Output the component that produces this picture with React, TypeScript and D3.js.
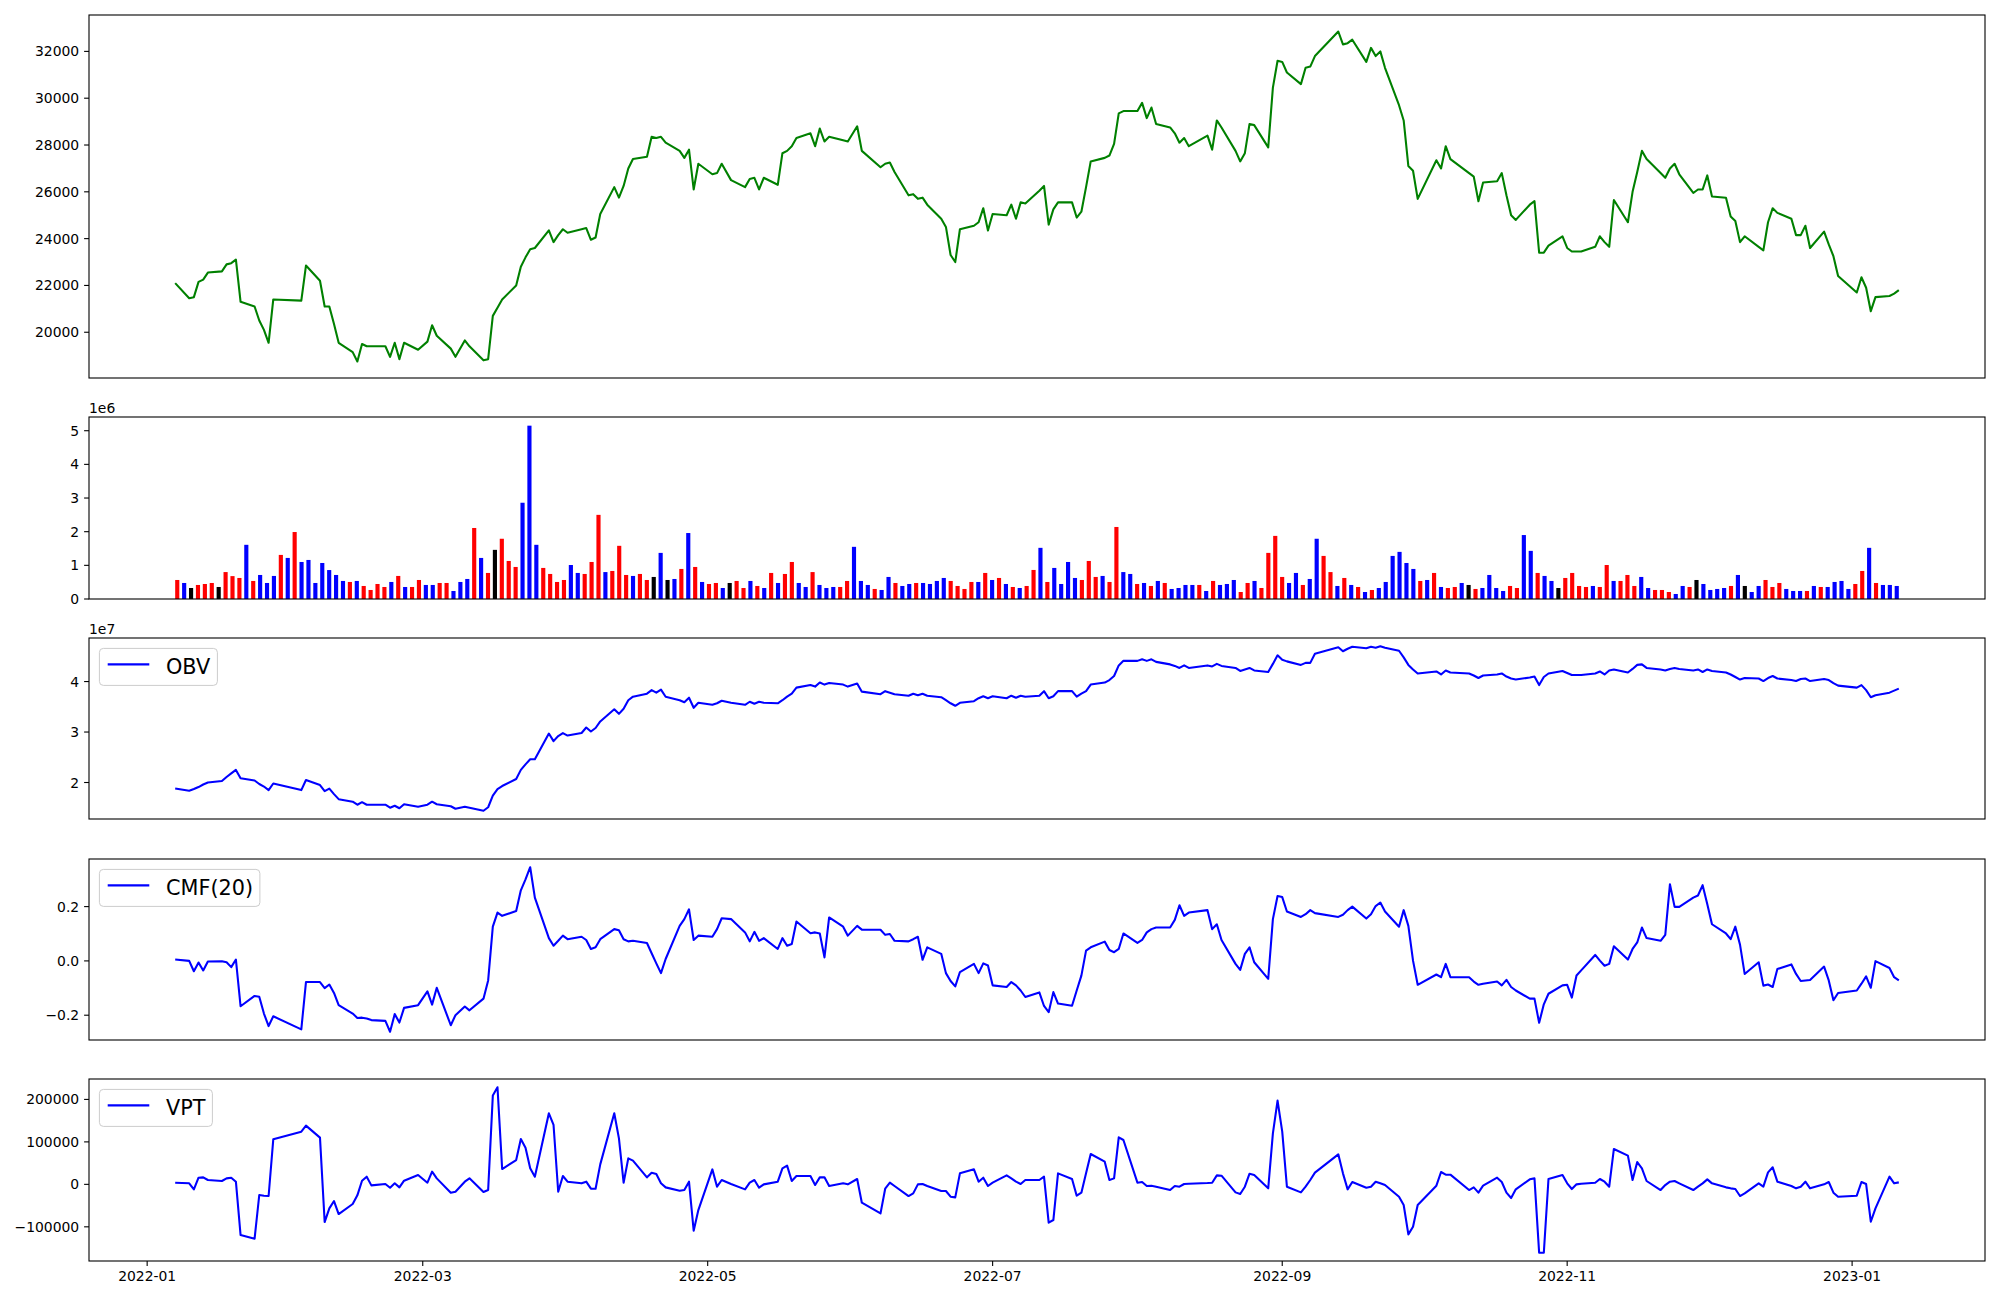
import React from "react";
import * as d3 from "d3";

// trading calendar (KRX), Jan 7 2022 .. Jan 11 2023
const startDate = "2022-01-07";
const endDate = "2023-01-11";
const holidays = [
  "2022-01-31", "2022-02-01", "2022-02-02", "2022-03-01", "2022-03-09",
  "2022-05-05", "2022-06-01", "2022-06-06", "2022-08-15", "2022-09-09",
  "2022-09-12", "2022-10-03", "2022-10-10", "2022-12-30",
];

// close price, one line per month
const close = [
  22100, 21450, 21500, 22150, 22250, 22550, 22600, 22900, 22950, 23100, 21300, 21100, 20500, 20100, 19550, 21400,
  21350, 22850, 22200, 21100, 21100, 20350, 19550, 19150, 18750, 19500, 19400, 19400, 19400, 18950, 19550, 18850, 19550, 19250,
  19600, 20300, 19850, 19300, 18950, 19650, 19400, 18800, 18850, 20700, 21050, 21400, 22000, 22800, 23200, 23550, 23600, 24350, 23850, 24150, 24400,
  24250, 24400, 24450, 23950, 24050, 25050, 26200, 25750, 26250, 27000, 27400, 27500, 28350, 28300, 28350, 28100, 27750, 27450, 27800, 26100, 27200,
  26750, 26800, 27200, 26500, 26200, 26550, 26600, 26100, 26600, 26300, 27650, 27750, 27950, 28300, 28500, 27950, 28700, 28150, 28350, 28200, 28150,
  28800, 27750, 27050, 27200, 27250, 26850, 25850, 25900, 25700, 25750, 25450, 24850, 24500, 23300, 23000, 24400, 24550, 24700, 25300, 24350,
  25050, 25000, 25450, 24850, 25550, 25500, 26050, 26250, 24600, 25250, 25550, 25550, 24900, 25150, 26200, 27300, 27450, 27550, 28050, 29350, 29450,
  29450, 29800, 29150, 29600, 28900, 28750, 28500, 28100, 28300, 27950, 28400, 27800, 29050, 28750, 27750, 27300, 27650, 28900, 28850, 27900, 30450, 31600,
  31550, 31100, 30600, 31300, 31350, 31800, 32850, 32300, 32350, 32500, 31550, 32150, 31800, 32000, 31300, 29700, 29050, 27100, 26900, 25700,
  27350, 27000, 27950, 27400, 26800, 26650, 25600, 26400, 26450, 26800, 25850, 25000, 24800, 25450, 25600, 23400, 23400, 23700, 24100,
  23600, 23450, 23450, 23450, 23650, 24100, 23850, 23650, 25650, 24700, 26000, 26850, 27750, 27400, 26800, 26600, 27000, 27200, 26750, 25950, 26100, 26100,
  26700, 25800, 25750, 24950, 24750, 23850, 24100, 23650, 23500, 24700, 25300, 25100, 24850, 24150, 24150, 24550, 23600, 24300, 23750, 23250, 22400,
  21700, 22350, 21900, 20900, 21500, 21550, 21650, 21800,
];

// volume in millions of shares
const volume = [
  0.565, 0.476, 0.327, 0.417, 0.446, 0.476, 0.357, 0.8, 0.68, 0.625,
  1.61, 0.536, 0.714, 0.476, 0.685, 1.31, 1.22, 1.99, 1.1, 1.16,
  0.476, 1.07, 0.86, 0.714, 0.536, 0.506, 0.536, 0.387, 0.268, 0.446,
  0.357, 0.506, 0.685, 0.357, 0.357, 0.565, 0.417, 0.417, 0.476, 0.476,
  0.238, 0.506, 0.595, 2.11, 1.22, 0.774, 1.46, 1.79, 1.13, 0.952,
  2.86, 5.15, 1.61, 0.923, 0.744, 0.506, 0.565, 1.01, 0.774, 0.744,
  1.1, 2.5, 0.8, 0.833, 1.58, 0.714, 0.685, 0.744, 0.565, 0.655,
  1.37, 0.565, 0.595, 0.893, 1.96, 0.952, 0.506, 0.446, 0.476, 0.327,
  0.476, 0.536, 0.327, 0.536, 0.387, 0.327, 0.774, 0.476, 0.744, 1.1,
  0.476, 0.357, 0.8, 0.417, 0.327, 0.357, 0.357, 0.536, 1.55, 0.536,
  0.417, 0.298, 0.268, 0.655, 0.476, 0.387, 0.446, 0.476, 0.476, 0.446,
  0.536, 0.625, 0.536, 0.387, 0.298, 0.506, 0.506, 0.774, 0.565, 0.625,
  0.446, 0.357, 0.327, 0.387, 0.863, 1.52, 0.506, 0.923, 0.446, 1.1,
  0.625, 0.565, 1.13, 0.655, 0.685, 0.506, 2.14, 0.8, 0.744, 0.446,
  0.476, 0.387, 0.536, 0.476, 0.298, 0.327, 0.417, 0.417, 0.417, 0.238,
  0.536, 0.417, 0.446, 0.565, 0.208, 0.476, 0.536, 0.327, 1.37, 1.875,
  0.655, 0.476, 0.774, 0.417, 0.595, 1.79, 1.28, 0.8, 0.387, 0.625,
  0.417, 0.357, 0.208, 0.268, 0.327, 0.506, 1.28, 1.4, 1.07, 0.893,
  0.536, 0.565, 0.774, 0.357, 0.327, 0.357, 0.476, 0.417, 0.298, 0.327,
  0.714, 0.327, 0.238, 0.387, 0.327, 1.9, 1.43, 0.774, 0.685, 0.536,
  0.327, 0.625, 0.774, 0.387, 0.357, 0.387, 0.357, 1.01, 0.536, 0.536,
  0.714, 0.387, 0.655, 0.327, 0.268, 0.268, 0.208, 0.149, 0.387, 0.357,
  0.565, 0.446, 0.268, 0.298, 0.327, 0.387, 0.714, 0.387, 0.208, 0.387,
  0.565, 0.357, 0.476, 0.298, 0.238, 0.238, 0.238, 0.387, 0.357, 0.357,
  0.506, 0.536, 0.298, 0.446, 0.833, 1.52, 0.476, 0.417, 0.417, 0.387,
];

// candle direction per bar: r = up, b = down, k = unchanged
const candle =
  "rbkrrrkrrr" + "brbbbrbrbb" + "bbbbbrbrrr" + "rbrbrrbbrr" + "bbbrbrkrrr" +
  "bbbrrrrbbr" + "rrbrrrbrrk" + "bkbrbrbrrb" + "krrbrbrbrr" + "bbrbbbrrbb" +
  "brbbrbbrbb" + "bbrrrrbrbr" + "brbrrbrbbb" + "brrrbrrbbr" + "brbrbbbbrb" +
  "rbbbrrbrrr" + "rbbrbbrrbr" + "brbrbbbbbb" + "rbrbrrbkrb" + "bbbrrbbrbb" +
  "krrrrbrrbr" + "rrbbrrrbbr" + "kbbbbrbkbb" + "rrrbbbrbrb" + "bbbrrbrbbb";

// OBV in units of 1e7
const obv = [
  1.882, 1.837, 1.87, 1.91, 1.96, 2.0, 2.03, 2.11, 2.18, 2.25, 2.085, 2.04, 1.97, 1.92, 1.85, 1.98,
  1.85, 2.05, 1.95, 1.83, 1.88, 1.77, 1.67, 1.62, 1.56, 1.61, 1.56, 1.56, 1.56, 1.5, 1.54, 1.49, 1.57, 1.52,
  1.56, 1.62, 1.57, 1.53, 1.48, 1.52, 1.5, 1.44, 1.51, 1.74, 1.87, 1.93, 2.07, 2.25, 2.36, 2.46, 2.46, 2.97, 2.82, 2.92, 2.98,
  2.93, 2.98, 3.09, 3.01, 3.08, 3.21, 3.45, 3.36, 3.46, 3.63, 3.7, 3.76, 3.83, 3.78, 3.84, 3.7, 3.63, 3.59, 3.68, 3.48, 3.58,
  3.54, 3.57, 3.62, 3.58, 3.54, 3.6, 3.56, 3.6, 3.58, 3.57, 3.63, 3.7, 3.76, 3.88, 3.93, 3.9, 3.98, 3.94, 3.97, 3.94, 3.9,
  3.96, 3.8, 3.75, 3.81, 3.78, 3.75, 3.72, 3.76, 3.73, 3.76, 3.72, 3.69, 3.63, 3.57, 3.52, 3.58, 3.61, 3.67, 3.71, 3.67,
  3.71, 3.67, 3.72, 3.68, 3.72, 3.7, 3.72, 3.81, 3.67, 3.71, 3.81, 3.81, 3.7, 3.76, 3.81, 3.94, 3.98, 4.03, 4.11, 4.32, 4.41,
  4.41, 4.44, 4.41, 4.44, 4.39, 4.34, 4.31, 4.27, 4.32, 4.27, 4.32, 4.3, 4.35, 4.31, 4.27, 4.21, 4.24, 4.27, 4.22, 4.19, 4.35, 4.52,
  4.43, 4.4, 4.33, 4.37, 4.37, 4.55, 4.68, 4.6, 4.65, 4.69, 4.66, 4.69, 4.67, 4.7, 4.67, 4.61, 4.48, 4.33, 4.24, 4.16,
  4.2, 4.14, 4.22, 4.18, 4.16, 4.12, 4.07, 4.12, 4.14, 4.16, 4.1, 4.06, 4.04, 4.08, 4.1, 3.93, 4.09, 4.16, 4.21,
  4.17, 4.13, 4.13, 4.13, 4.16, 4.2, 4.14, 4.22, 4.24, 4.18, 4.25, 4.33, 4.34, 4.27, 4.24, 4.22, 4.25, 4.27, 4.25, 4.22, 4.24, 4.19,
  4.24, 4.21, 4.18, 4.14, 4.09, 4.04, 4.07, 4.06, 4.01, 4.07, 4.11, 4.06, 4.03, 4.01, 4.05, 4.06, 4.01, 4.05, 4.03, 3.97, 3.92,
  3.88, 3.93, 3.83, 3.69, 3.73, 3.78, 3.82, 3.86,
];

const cmf = [
  0.005, 0, -0.038, -0.006, -0.035, -0.002, -0.001, -0.005, -0.023, 0.005, -0.167, -0.129, -0.132, -0.194, -0.24, -0.204,
  -0.252, -0.078, -0.078, -0.1, -0.087, -0.118, -0.163, -0.194, -0.21, -0.209, -0.212, -0.218, -0.221, -0.261, -0.196, -0.227, -0.173, -0.163,
  -0.112, -0.161, -0.099, -0.237, -0.2, -0.168, -0.182, -0.139, -0.072, 0.126, 0.178, 0.166, 0.184, 0.26, 0.3, 0.345, 0.233, 0.084, 0.056, 0.074, 0.093,
  0.08, 0.089, 0.077, 0.044, 0.05, 0.08, 0.117, 0.113, 0.08, 0.072, 0.074, 0.066, 0.028, -0.009, -0.045, 0.007, 0.129, 0.154, 0.19, 0.077, 0.093,
  0.089, 0.117, 0.157, 0.154, 0.105, 0.072, 0.107, 0.074, 0.084, 0.044, 0.084, 0.056, 0.062, 0.145, 0.102, 0.105, 0.101, 0.013, 0.16, 0.126, 0.093,
  0.129, 0.115, 0.115, 0.096, 0.099, 0.074, 0.072, 0.08, 0.089, 0.004, 0.05, 0.026, -0.045, -0.074, -0.094, -0.041, -0.011, -0.045, -0.009, -0.017,
  -0.09, -0.096, -0.078, -0.09, -0.109, -0.133, -0.116, -0.166, -0.189, -0.115, -0.157, -0.165, -0.109, -0.054, 0.038, 0.05, 0.071, 0.04, 0.032, 0.044, 0.101,
  0.066, 0.077, 0.105, 0.117, 0.123, 0.123, 0.151, 0.205, 0.166, 0.178, 0.187, 0.117, 0.135, 0.077, -0.011, -0.033, 0.026, 0.05, -0.005, -0.066, 0.154, 0.239,
  0.235, 0.182, 0.162, 0.172, 0.187, 0.176, 0.162, 0.17, 0.187, 0.2, 0.156, 0.172, 0.202, 0.215, 0.182, 0.126, 0.187, 0.129, 0.001, -0.088,
  -0.05, -0.06, -0.011, -0.06, -0.06, -0.076, -0.088, -0.084, -0.076, -0.09, -0.07, -0.096, -0.109, -0.139, -0.139, -0.228, -0.16, -0.121, -0.09,
  -0.088, -0.135, -0.054, -0.035, 0.022, 0.001, -0.018, -0.011, 0.054, 0.005, 0.044, 0.068, 0.123, 0.084, 0.074, 0.096, 0.282, 0.199, 0.199, 0.233, 0.241, 0.279,
  0.209, 0.135, 0.101, 0.08, 0.126, 0.06, -0.048, -0.005, -0.091, -0.087, -0.096, -0.03, -0.013, -0.048, -0.074, -0.072, -0.07, -0.021, -0.072, -0.145, -0.118,
  -0.109, -0.084, -0.057, -0.099, -0.001, -0.026, -0.06, -0.072,
];

const vpt = [
  3900, 2400, -11800, 15700, 16500, 10200, 7900, 14100, 15700, 6300, -119400, -128000, -25100, -26700, -27500, 106000,
  124100, 138200, 110000, -88800, -56600, -39300, -69900, -46300, -25900, 8600, 18100, -2400, 800, -7900, 2400, -7100, 8600, 22000,
  3900, 29800, 14100, -19600, -17300, 6300, 14100, -18100, -13400, 209000, 228600, 36100, 57300, 106800, 86400, 37700, 18100, 167300, 139800, -17300, 19600,
  6300, 2400, 6300, -10200, -10200, 47100, 167300, 108400, 3900, 61300, 55800, 16500, 27500, 24400, 2400, -7100, -14900, -13400, 6300, -109200, -60500,
  35300, -5500, 10200, 800, -11800, 3900, 10200, -7900, 0, 6300, 37700, 44000, 7900, 19600, 19600, -1600, 16500, 16500, -3900, 2400, 0,
  12600, -43200, -68300, -10200, 3900, -3900, -27500, -21200, 0, 800, -3900, -15700, -15700, -29100, -30600, 25900, 35300, 6300, 15700, -3900,
  3900, 21200, 14100, 6300, 800, 10200, 10200, 18100, -90300, -84000, 25900, 12600, -26700, -19600, 25900, 71500, 53400, 10200, 14100, 110800, 104500,
  3900, 5500, -3900, -3100, -5500, -13400, -3900, -5500, 800, 1600, 3100, 3900, 21200, 20400, -18900, -22800, -5500, 25100, 22000, -9400, 120200, 197200,
  124100, -5500, -18900, -5500, 10200, 27500, 70700, 25900, -11800, 5500, -7900, -5500, 6300, 2400, -1600, -29100, -48700, -117800, -99800, -48700,
  -3100, 29100, 22800, 22800, -13400, -7100, -19600, -3100, 15700, 5500, -19600, -32200, -11800, 11800, 14100, -161000, -161000, 12600, 22000,
  2400, -11000, 0, 1600, 3900, 12600, 6300, -5500, 83300, 67600, 10200, 52600, 37700, 7900, -13400, -1600, 6300, 7900, 2400, -13400, -5500, 2400,
  11800, 2400, -7100, -9400, -11000, -27500, -21200, 2400, -5500, 28300, 40100, 6300, -3900, -9400, -5500, 6300, -9400, 0, 5500, -19600, -29100,
  -26700, 5500, 800, -88000, -56600, 18100, 2400, 4700,
];

const priceTicks = [20000, 22000, 24000, 26000, 28000, 30000, 32000];
const volumeTicks = [0, 1, 2, 3, 4, 5];
const obvTicks = [2, 3, 4];
const cmfTicks = [-0.2, 0, 0.2];
const vptTicks = [-100000, 0, 100000, 200000];

// layout
const LEFT = 89;
const RIGHT = 1985;
const PANELS = [
  { top: 15, bottom: 378 },
  { top: 417, bottom: 599 },
  { top: 638, bottom: 819 },
  { top: 859, bottom: 1040 },
  { top: 1079, bottom: 1261 },
];
const FONT = "DejaVu Sans, Verdana, sans-serif";
const TICK_FS = 13.9;
const LEG_FS = 20.8;
const LW = 2.08;
const COLORS: Record<string, string> = { r: "#ff0000", b: "#0000ff", k: "#000000" };

const parse = d3.utcParse("%Y-%m-%d");
const fmtDay = d3.utcFormat("%Y-%m-%d");

const days: Date[] = d3
  .utcDay.range(parse(startDate)!, d3.utcDay.offset(parse(endDate)!, 1))
  .filter((d) => d.getUTCDay() !== 0 && d.getUTCDay() !== 6 && !holidays.includes(fmtDay(d)));

const padded = (lo: number, hi: number): [number, number] => {
  const p = (hi - lo) * 0.05;
  return [lo - p, hi + p];
};

const minus = (s: string) => s.replace("-", "\u2212");

function YAxis({ scale, ticks, fmt }: { scale: d3.ScaleLinear<number, number>; ticks: number[]; fmt: (v: number) => string }) {
  return (
    <g>
      {ticks.map((t) => (
        <g key={t} transform={`translate(${LEFT},${scale(t)})`}>
          <line x1={-4.9} x2={0} stroke="#000" strokeWidth={1.1} />
          <text x={-9.8} dy="0.36em" textAnchor="end" fontSize={TICK_FS} fontFamily={FONT}>
            {fmt(t)}
          </text>
        </g>
      ))}
    </g>
  );
}

function Frame({ top, bottom }: { top: number; bottom: number }) {
  return <rect x={LEFT} y={top} width={RIGHT - LEFT} height={bottom - top} fill="none" stroke="#000" strokeWidth={1.1} />;
}

function Legend({ top, label, width }: { top: number; label: string; width: number }) {
  const x = LEFT + 10.4;
  const y = top + 10.4;
  return (
    <g>
      <rect x={x} y={y} width={width} height={37} rx={4} fill="#fff" fillOpacity={0.8} stroke="#cccccc" strokeWidth={1} />
      <line x1={x + 8.3} x2={x + 8.3 + 41.6} y1={y + 16} y2={y + 16} stroke="#0000ff" strokeWidth={LW} />
      <text x={x + 66.6} y={y + 26} fontSize={LEG_FS} fontFamily={FONT}>
        {label}
      </text>
    </g>
  );
}

export default function App() {
  const t0 = days[0].getTime();
  const t1 = days[days.length - 1].getTime();
  const [ta, tb] = padded(t0, t1);
  const x = d3.scaleUtc().domain([new Date(ta), new Date(tb)]).range([LEFT, RIGHT]);

  const n = volume.length;
  const bw = 0.6;
  const xv = d3.scaleLinear().domain(padded(-bw / 2, n - 1 + bw / 2)).range([LEFT, RIGHT]);

  const yP = d3.scaleLinear().domain(padded(d3.min(close)!, d3.max(close)!)).range([PANELS[0].bottom, PANELS[0].top]);
  const yV = d3.scaleLinear().domain([0, d3.max(volume)! * 1.05]).range([PANELS[1].bottom, PANELS[1].top]);
  const yO = d3.scaleLinear().domain(padded(d3.min(obv)!, d3.max(obv)!)).range([PANELS[2].bottom, PANELS[2].top]);
  const yC = d3.scaleLinear().domain(padded(d3.min(cmf)!, d3.max(cmf)!)).range([PANELS[3].bottom, PANELS[3].top]);
  const yT = d3.scaleLinear().domain(padded(d3.min(vpt)!, d3.max(vpt)!)).range([PANELS[4].bottom, PANELS[4].top]);

  const path = (vals: number[], y: d3.ScaleLinear<number, number>) =>
    d3
      .line<number>()
      .x((_, i) => x(days[i]))
      .y((d) => y(d))(vals) ?? "";

  const monthTicks = x.ticks(d3.utcMonth.every(2)!);
  const fmtMonth = d3.utcFormat("%Y-%m");

  return (
    <div style={{ position: "absolute", left: 0, top: 0 }}>
      <svg width={2000} height={1300} style={{ display: "block", background: "#fff" }}>
        <rect width={2000} height={1300} fill="#fff" />

        {/* price */}
        <path d={path(close, yP)} fill="none" stroke="#008000" strokeWidth={LW} strokeLinejoin="round" />
        <YAxis scale={yP} ticks={priceTicks} fmt={(v) => String(v)} />
        <Frame {...PANELS[0]} />

        {/* volume */}
        {volume.map((v, i) => (
          <rect
            key={i}
            x={xv(i - bw / 2)}
            y={yV(v)}
            width={xv(bw) - xv(0)}
            height={yV(0) - yV(v)}
            fill={COLORS[candle[i]]}
          />
        ))}
        <YAxis scale={yV} ticks={volumeTicks} fmt={(v) => String(v)} />
        <text x={LEFT} y={PANELS[1].top - 4} fontSize={TICK_FS} fontFamily={FONT}>1e6</text>
        <Frame {...PANELS[1]} />

        {/* OBV */}
        <path d={path(obv, yO)} fill="none" stroke="#0000ff" strokeWidth={LW} strokeLinejoin="round" />
        <YAxis scale={yO} ticks={obvTicks} fmt={(v) => String(v)} />
        <text x={LEFT} y={PANELS[2].top - 4} fontSize={TICK_FS} fontFamily={FONT}>1e7</text>
        <Legend top={PANELS[2].top} label="OBV" width={118} />
        <Frame {...PANELS[2]} />

        {/* CMF */}
        <path d={path(cmf, yC)} fill="none" stroke="#0000ff" strokeWidth={LW} strokeLinejoin="round" />
        <YAxis scale={yC} ticks={cmfTicks} fmt={(v) => minus(v.toFixed(1))} />
        <Legend top={PANELS[3].top} label="CMF(20)" width={160.5} />
        <Frame {...PANELS[3]} />

        {/* VPT */}
        <path d={path(vpt, yT)} fill="none" stroke="#0000ff" strokeWidth={LW} strokeLinejoin="round" />
        <YAxis scale={yT} ticks={vptTicks} fmt={(v) => minus(String(v))} />
        <Legend top={PANELS[4].top} label="VPT" width={113} />
        <Frame {...PANELS[4]} />

        {/* date axis */}
        {monthTicks.map((d) => (
          <g key={d.getTime()} transform={`translate(${x(d)},${PANELS[4].bottom})`}>
            <line y1={0} y2={4.9} stroke="#000" strokeWidth={1.1} />
            <text y={9.8} dy="0.76em" textAnchor="middle" fontSize={TICK_FS} fontFamily={FONT}>
              {fmtMonth(d)}
            </text>
          </g>
        ))}
      </svg>
    </div>
  );
}
